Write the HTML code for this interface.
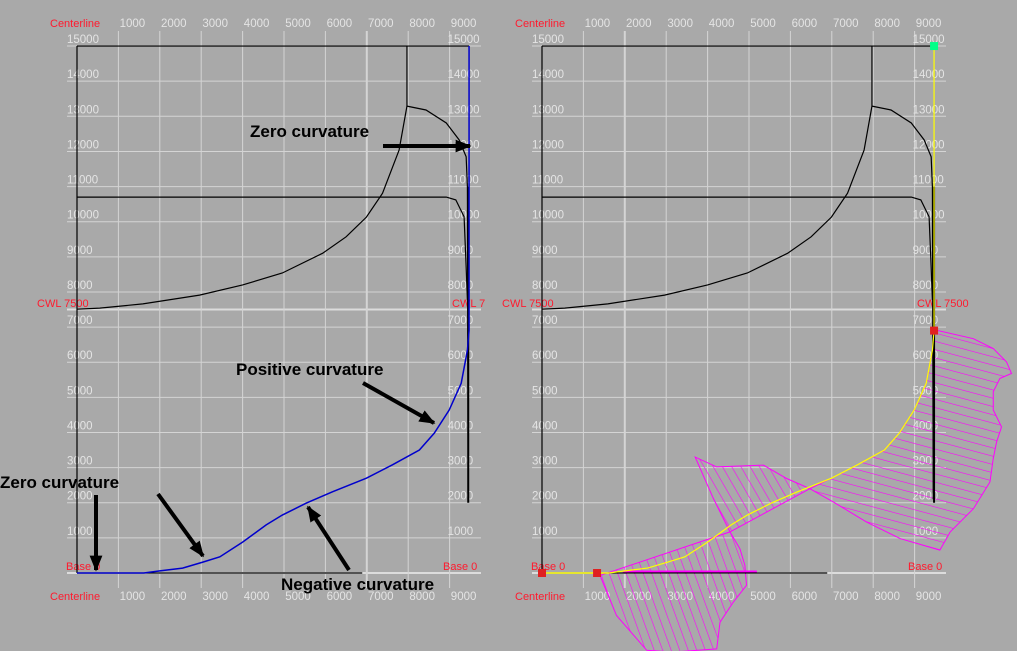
<!DOCTYPE html>
<html><head><meta charset="utf-8"><style>
html,body{margin:0;padding:0;background:#a9a9a9;}
svg{display:block;font-family:"Liberation Sans",Arial,sans-serif;}
.tk{fill:#e4e4e4;font-size:11.5px;}
.rd{fill:#ff1a2e;font-size:11px;}
.ann{fill:#000;font-size:17px;font-weight:bold;}
</style></head><body>
<svg id="chart" width="1017" height="651" viewBox="0 0 1017 651" xmlns="http://www.w3.org/2000/svg">
<defs>
<pattern id="h1" width="8" height="8" patternUnits="userSpaceOnUse" patternTransform="rotate(-20)"><line x1="0" y1="0" x2="0" y2="8" stroke="#ff00ff" stroke-width="1.2"/></pattern>
<pattern id="h2" width="8" height="8" patternUnits="userSpaceOnUse" patternTransform="rotate(-30)"><line x1="0" y1="0" x2="0" y2="8" stroke="#ff00ff" stroke-width="1.2"/></pattern>
<pattern id="h3" width="8" height="8" patternUnits="userSpaceOnUse" patternTransform="rotate(-75)"><line x1="0" y1="0" x2="0" y2="8" stroke="#ff00ff" stroke-width="1.2"/></pattern>
<marker id="ah" viewBox="0 0 10 10" refX="9" refY="5" markerWidth="4" markerHeight="4" orient="auto"><path d="M0,1 L10,5 L0,9 z" fill="#000"/></marker>
</defs>
<g id="left"></g>
<g id="right"></g>
<g>
<text class="ann" x="250" y="137">Zero curvature</text>
<line x1="383" y1="146" x2="470" y2="146" stroke="#000" stroke-width="4" marker-end="url(#ah)"/>
<text class="ann" x="236" y="375">Positive curvature</text>
<line x1="363" y1="383" x2="434" y2="423" stroke="#000" stroke-width="4" marker-end="url(#ah)"/>
<text class="ann" x="0" y="488">Zero curvature</text>
<line x1="96" y1="495" x2="96" y2="570" stroke="#000" stroke-width="4" marker-end="url(#ah)"/>
<line x1="158" y1="494" x2="203" y2="556" stroke="#000" stroke-width="4" marker-end="url(#ah)"/>
<text class="ann" x="281" y="590">Negative curvature</text>
<line x1="349" y1="570" x2="308" y2="507" stroke="#000" stroke-width="4" marker-end="url(#ah)"/>
</g>
</svg>
<script>
const xTicks=[1000,2000,3000,4000,5000,6000,7000,8000,9000];
const yTicks=[1000,2000,3000,4000,5000,6000,7000,8000,9000,10000,11000,12000,13000,14000,15000];
const curveX=[0,1614,2000,2550,3040,3450,4000,4570,4960,5540,6170,6990,7620,8270,8630,8990,9280,9430,9470,9470];
const curveY=[0,0,60,140,310,460,880,1370,1650,1990,2310,2700,3080,3500,3980,4640,5400,6340,6900,15000];
const innerX=[0,550,1590,2960,4000,4960,5930,6500,6990,7380,7780,7970,7970];
const innerY=[7510,7540,7660,7910,8200,8540,9100,9570,10130,10810,12040,13290,15000];
const outerX=[7970,8430,8920,9230,9400,9430,9450];
const outerY=[13290,13180,12810,12330,11850,10990,2100];
const shelfX=[0,8920,9150,9350,9400,9430];
const shelfY=[10700,10700,10620,10140,8700,7770];
const lobe1X=[1400,1800,2530,3170,4220,4300,4620,4940,4900,4780,4540];
const lobe1Y=[-70,-1210,-2200,-2250,-2160,-1400,-830,-350,220,690,1170];
const lobe2X=[4540,4140,3700,4220,5350,5910,6470];
const lobe2Y=[1170,2120,3300,3020,3070,2690,2400];
const lobe3X=[6470,7040,7840,8650,9610,9860,10420,10820,10900,10980,11100,10900,10900,11060,11340,11220,10900,10420,9530,9470];
const lobe3Y=[2400,2020,1450,980,650,1170,1830,2590,3260,3730,4160,4640,5160,5540,5680,6010,6390,6670,6910,6900];

const NS="http://www.w3.org/2000/svg";
function mk(p,t,a){const e=document.createElementNS(NS,t);for(const k in a)e.setAttribute(k,a[k]);p.appendChild(e);return e;}
function panel(g,x0,right){
  const sx=v=>x0+v*0.0414, sy=v=>573-v*0.03513;
  const L=x0-10, R=x0+404;
  for(const t of yTicks){const l=mk(g,'line',{x1:L,x2:R,y1:sy(t),y2:sy(t),stroke:'#d4d4d4','stroke-width':1});
    
    }
  for(const t of [0,7500]){const l=mk(g,'line',{x1:L,x2:R,y1:sy(t),y2:sy(t),stroke:'#dcdcdc','stroke-width':2});
    
    }
  for(const t of xTicks){const l=mk(g,'line',{x1:sx(t),x2:sx(t),y1:31,y2:588,stroke:'#d4d4d4','stroke-width':(right?t==2000:t==7000)?2:1});
    
    }
  for(const t of xTicks){for(const y of [27,600]){const e=mk(g,'text',{x:sx(t)+14,y:y,'text-anchor':'middle',class:'tk'});e.textContent=t;
    
    }}
  for(const t of yTicks){for(const xx of [sx(0)-10,sx(9000)-2]){const e=mk(g,'text',{x:xx,y:sy(t)-3,class:'tk'});e.textContent=t;
    
    }}
  const reds=[[x0-27,27,'Centerline'],[x0-27,600,'Centerline'],[x0-40,307,'CWL 7500'],[x0+375,307,right?'CWL 7500':'CWL 7'],[x0-11,570,'Base 0'],[x0+366,570,'Base 0']];
  for(const r of reds){const e=mk(g,'text',{x:r[0],y:r[1],class:'rd'});e.textContent=r[2];
    
    }
  const pts=(X,Y)=>X.map((v,i)=>sx(v)+','+sy(Y[i])).join(' ');
  if(right){
    const lob=[[lobe1X,lobe1Y,'h1'],[lobe2X,lobe2Y,'h2']];
    for(const o of lob){const e=mk(g,'polygon',{points:pts(o[0],o[1]),fill:'url(#'+o[2]+')',stroke:'#ff00ff','stroke-width':1});
      
      }
    const cx=[],cy=[];curveX.forEach((v,i)=>{if(v>=6470&&curveY[i]<=6900){cx.push(v);cy.push(curveY[i]);}});
    const e3=mk(g,'polygon',{points:pts(lobe3X.concat(cx.reverse()),lobe3Y.concat(cy.reverse())),fill:'url(#h3)',stroke:'#ff00ff','stroke-width':1});
    
    
    const mb=mk(g,'line',{x1:sx(1950),x2:sx(5190),y1:sy(0)-1,y2:sy(0)-1,stroke:'#ff00ff','stroke-width':3});
    
    
  }
  const blk=[[[0,0],[0,15000]],[[0,9470],[15000,15000]],[[0,6890],[0,0]],[innerX,innerY],[outerX,outerY],[shelfX,shelfY]];
  for(const b of blk){const e=mk(g,'polyline',{points:pts(b[0],b[1]),fill:'none',stroke:'#000','stroke-width':1.2});
    
    }
  const v=mk(g,'line',{x1:sx(right?9470:9450),x2:sx(right?9470:9450),y1:sy(11000),y2:sy(2000),stroke:'#000','stroke-width':2});
  
  
  const c=mk(g,'polyline',{points:pts(curveX,curveY),fill:'none',stroke:right?'#ffff00':'#0000cc','stroke-width':right?1.2:1.5});
  
  
  if(right){
    const yl=mk(g,'line',{x1:sx(0),x2:sx(1614),y1:sy(0),y2:sy(0),stroke:'#ffff00','stroke-width':1.2});
    
    
    for(const p of [[0,0],[1330,0],[9470,6900]]){const r=mk(g,'rect',{x:sx(p[0])-4,y:sy(p[1])-4,width:8,height:8,fill:'#e02020'});
      
      }
    const gr=mk(g,'rect',{x:sx(9470)-4,y:sy(15000)-4,width:8,height:8,fill:'#00ff88'});
    
    
  }
}
panel(document.getElementById('left'),77,false);
panel(document.getElementById('right'),542,true);
</script>
</body></html>
